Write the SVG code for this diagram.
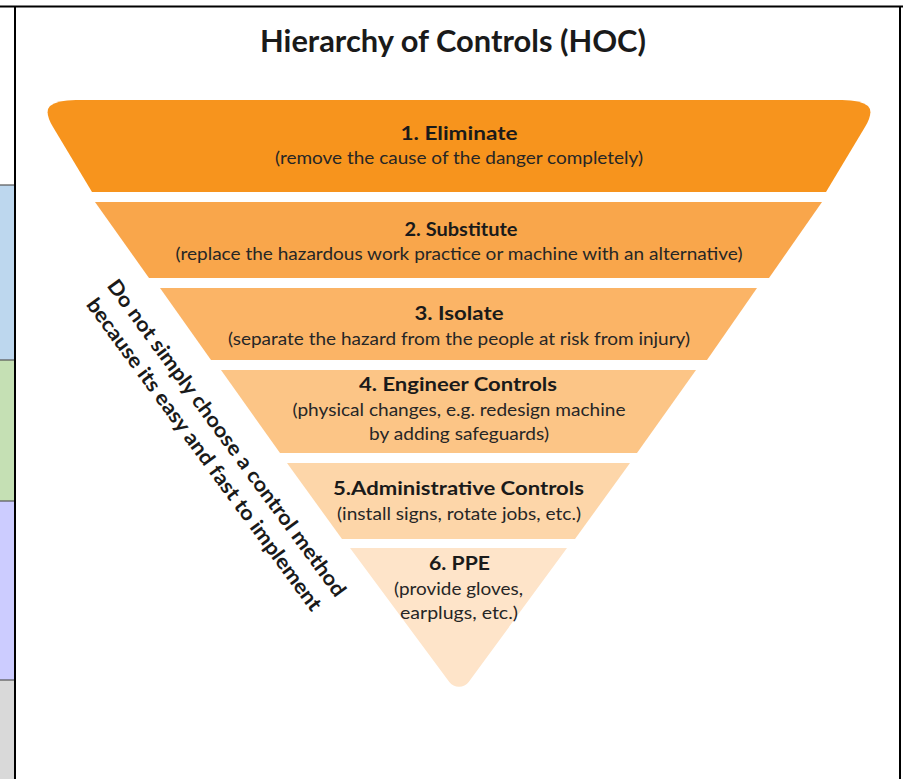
<svg xmlns="http://www.w3.org/2000/svg" width="903" height="779" viewBox="0 0 903 779">
<style>
.h{font-family:Lato,"Open Sans","Liberation Sans",sans-serif;font-weight:bold;font-size:19.5px;fill:#1a1a1a;text-anchor:middle}
.b{font-family:Lato,"Open Sans","Liberation Sans",sans-serif;font-size:18px;fill:#262626;text-anchor:middle}
.t{font-family:Lato,"Open Sans","Liberation Sans",sans-serif;font-weight:bold;font-size:29.5px;fill:#1a1a1a;text-anchor:middle}
.r{font-family:Lato,"Open Sans","Liberation Sans",sans-serif;font-weight:bold;font-size:20.5px;fill:#1a1a1a;text-anchor:middle}
.ln{stroke:#000;stroke-width:2;fill:none}
.sep{stroke:#555;stroke-width:1.2}
</style>
<rect width="903" height="779" fill="#fff"/>
<g id="side-cells">
<rect x="0" y="185" width="15" height="175" fill="#bdd7ee"/>
<rect x="0" y="360" width="15" height="141" fill="#c5e0b4"/>
<rect x="0" y="501" width="15" height="179" fill="#ccccff"/>
<rect x="0" y="680" width="15" height="99" fill="#d9d9d9"/>
<line class="sep" x1="0" y1="185" x2="15" y2="185"/>
<line class="sep" x1="0" y1="360" x2="15" y2="360"/>
<line class="sep" x1="0" y1="501" x2="15" y2="501"/>
<line class="sep" x1="0" y1="680" x2="15" y2="680"/>
</g>
<g id="frame">
<line class="ln" x1="0" y1="6.5" x2="903" y2="6.5"/>
<line class="ln" x1="15" y1="6" x2="15" y2="779"/>
<line class="ln" x1="900" y1="6" x2="900" y2="779"/>
</g>
<text id="title" class="t" x="453" y="51.5" textLength="386" lengthAdjust="spacingAndGlyphs">Hierarchy of Controls (HOC)</text>
<g id="band1">
<path d="M92,192 L53,127 Q44,112 50,106 Q57,100 76,100 L842,100 Q861,100 868,106 Q874,112 865,127 L826,192 Z" fill="#f7941d"/>
<text class="h" x="459" y="140" textLength="117" lengthAdjust="spacingAndGlyphs">1. Eliminate</text>
<text class="b" x="459" y="164" textLength="368" lengthAdjust="spacingAndGlyphs">(remove the cause of the danger completely)</text>
</g>
<g id="band2">
<path d="M95,202 L822,202 L769,278 L149,278 Z" fill="#f9a64b"/>
<text class="h" x="461" y="236" textLength="113" lengthAdjust="spacingAndGlyphs">2. Substitute</text>
<text class="b" x="459" y="260" textLength="567" lengthAdjust="spacingAndGlyphs">(replace the hazardous work practice or machine with an alternative)</text>
</g>
<g id="band3">
<path d="M160,288 L757,288 L707,360 L211,360 Z" fill="#fbb466"/>
<text class="h" x="459" y="320" textLength="89" lengthAdjust="spacingAndGlyphs">3. Isolate</text>
<text class="b" x="459" y="344.5" textLength="462" lengthAdjust="spacingAndGlyphs">(separate the hazard from the people at risk from injury)</text>
</g>
<g id="band4">
<path d="M221,370 L696,370 L637,453 L280,453 Z" fill="#fcc586"/>
<text class="h" x="458" y="391" textLength="198" lengthAdjust="spacingAndGlyphs">4. Engineer Controls</text>
<text class="b" x="459" y="415.5" textLength="333" lengthAdjust="spacingAndGlyphs">(physical changes, e.g. redesign machine</text>
<text class="b" x="459" y="439.5" textLength="180" lengthAdjust="spacingAndGlyphs">by adding safeguards)</text>
</g>
<g id="band5">
<path d="M287,463 L630,463 L575,539 L342,539 Z" fill="#fdd6a9"/>
<text class="h" x="458.5" y="495" textLength="251" lengthAdjust="spacingAndGlyphs">5.Administrative Controls</text>
<text class="b" x="459" y="519.5" textLength="244" lengthAdjust="spacingAndGlyphs">(install signs, rotate jobs, etc.)</text>
</g>
<g id="band6">
<path d="M350,548 L567,548 L468.7,681.9 A12,12 0 0 1 449.3,681.9 Z" fill="#fee4c9"/>
<text class="h" x="459.5" y="570" textLength="61" lengthAdjust="spacingAndGlyphs">6. PPE</text>
<text class="b" x="458.5" y="594.5" textLength="129" lengthAdjust="spacingAndGlyphs">(provide gloves,</text>
<text class="b" x="459" y="618.5" textLength="118" lengthAdjust="spacingAndGlyphs">earplugs, etc.)</text>
</g>
<g id="note">
<text class="r" transform="translate(221,442) rotate(53.7)" textLength="388" lengthAdjust="spacingAndGlyphs">Do not simply choose a control method</text>
<text class="r" transform="translate(198.5,458.6) rotate(53.7)" textLength="382" lengthAdjust="spacingAndGlyphs">because its easy and fast to implement</text>
</g>
</svg>
